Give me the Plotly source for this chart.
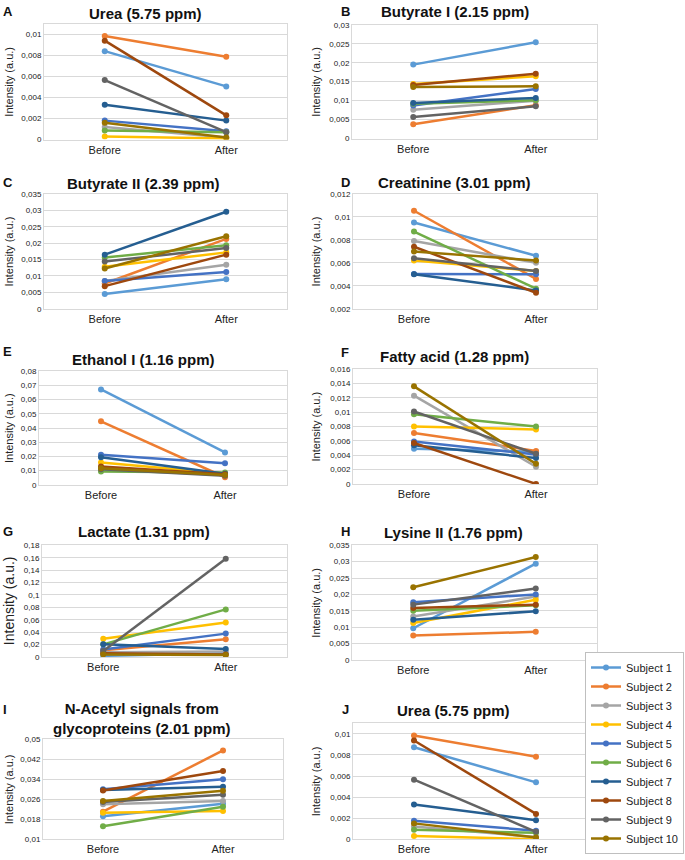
import plotly.graph_objects as go

W, H = 685, 860

times = ["Before", "After"]
subjects = ["Subject %d" % i for i in range(1, 11)]
colors = ["#5B9BD5", "#ED7D31", "#A5A5A5", "#FFC000", "#4472C4",
          "#70AD47", "#255E91", "#9E480E", "#636363", "#997300"]

# values per subject (Subject 1..10), before / after
urea_before = [0.0084, 0.00984, 0.0012, 0.0003, 0.0018, 0.00086, 0.0033, 0.0094, 0.00565, 0.0016]
urea_after = [0.00505, 0.00786, 0.0002, 0.0001, 0.0008, 0.0007, 0.0018, 0.0023, 0.0007, 0.0002]
butyrate1_before = [0.0195, 0.0038, 0.0076, 0.0144, 0.0087, 0.0092, 0.0094, 0.0141, 0.0057, 0.0136]
butyrate1_after = [0.0254, 0.0088, 0.0100, 0.0164, 0.0131, 0.0101, 0.0107, 0.0171, 0.0085, 0.0138]
butyrate2_before = [0.0045, 0.0077, 0.0085, 0.0128, 0.0085, 0.0156, 0.0165, 0.0069, 0.0144, 0.0123]
butyrate2_after = [0.0090, 0.0213, 0.0134, 0.0172, 0.0112, 0.0194, 0.0296, 0.0165, 0.0185, 0.0221]
creatinine_before = [0.00951, 0.01054, 0.0079, 0.0062, 0.00504, 0.00873, 0.0050, 0.0074, 0.0064, 0.0070]
creatinine_after = [0.00662, 0.0046, 0.0060, 0.0053, 0.0050, 0.00375, 0.0036, 0.0034, 0.0053, 0.0062]
ethanol_before = [0.0671, 0.0447, 0.0110, 0.0158, 0.0212, 0.0094, 0.0195, 0.0130, 0.0110, 0.0118]
ethanol_after = [0.0228, 0.0054, 0.0070, 0.0080, 0.0153, 0.0087, 0.0078, 0.0075, 0.0064, 0.0070]
fatty_before = [0.0049, 0.0071, 0.0123, 0.0080, 0.0059, 0.0097, 0.0054, 0.0057, 0.0101, 0.0136]
fatty_after = [0.0045, 0.0046, 0.0024, 0.0076, 0.0041, 0.0080, 0.0036, 0.0, 0.0042, 0.0028]
lactate_before = [0.0020, 0.0110, 0.0080, 0.0297, 0.0124, 0.0205, 0.0205, 0.0060, 0.0097, 0.0043]
lactate_after = [0.0060, 0.0286, 0.0090, 0.0557, 0.0378, 0.0768, 0.0130, 0.0043, 0.1584, 0.0032]
lysine_before = [0.0097, 0.0075, 0.0133, 0.0113, 0.0176, 0.0150, 0.0123, 0.0159, 0.0169, 0.0222]
lysine_after = [0.0294, 0.0086, 0.0194, 0.0184, 0.0200, 0.0167, 0.0149, 0.0169, 0.0218, 0.0314]
nacetyl_before = [0.0192, 0.0210, 0.0240, 0.0206, 0.0300, 0.0152, 0.0297, 0.0295, 0.0249, 0.0253]
nacetyl_after = [0.0242, 0.0455, 0.0253, 0.0213, 0.0340, 0.0230, 0.0310, 0.0373, 0.0278, 0.0294]
urea2_before = [0.00873, 0.00984, 0.0012, 0.0003, 0.00175, 0.0009, 0.0033, 0.00937, 0.00565, 0.0015]
urea2_after = [0.0054, 0.00784, 0.0002, 0.0, 0.0008, 0.0006, 0.0018, 0.0024, 0.0007, 0.00015]

panels = [
    # letter, title, before, after, yrange, dtick, x-domain px, y-domain px, title pos, letter pos
    ("A", "Urea (5.75 ppm)", urea_before, urea_after, [0, 0.011], 0.002, (44, 287), (20, 137), (145, 10), (8, 8)),
    ("B", "Butyrate I (2.15 ppm)", butyrate1_before, butyrate1_after, [0, 0.03], 0.005, (352, 597), (21, 136), (455, 8), (345, 8)),
    ("C", "Butyrate II (2.39 ppm)", butyrate2_before, butyrate2_after, [0, 0.035], 0.005, (44, 287), (192, 308), (143, 181), (8, 180)),
    ("D", "Creatinine (3.01 ppm)", creatinine_before, creatinine_after, [0.002, 0.012], 0.002, (353, 597), (192, 308), (454, 180), (345, 180)),
    ("E", "Ethanol I (1.16 ppm)", ethanol_before, ethanol_after, [0, 0.08], 0.01, (39, 287), (371, 486), (143, 359), (8, 351)),
    ("F", "Fatty acid (1.28 ppm)", fatty_before, fatty_after, [0, 0.016], 0.002, (353, 597), (369, 485), (454, 356), (345, 352)),
    ("G", "Lactate (1.31 ppm)", lactate_before, lactate_after, [0, 0.18], 0.02, (42, 287), (547, 660), (144, 533), (8, 533)),
    ("H", "Lysine II (1.76 ppm)", lysine_before, lysine_after, [0, 0.035], 0.005, (352, 597), (547, 663), (453, 534), (345, 533)),
    ("I", "N-Acetyl signals from<br>glycoproteins (2.01 ppm)", nacetyl_before, nacetyl_after, [0.01, 0.05], 0.008, (43, 283), (743, 844), (142, 722), (5, 713)),
    ("J", "Urea (5.75 ppm)", urea2_before, urea2_after, [0, 0.011], 0.002, (353, 597), (727, 844), (453, 714), (345, 713)),
]

fig = go.Figure()
annotations = []
layout = {}

for k, (letter, title, before, after, yr, dt, xd, yd, tpos, lpos) in enumerate(panels):
    n = "" if k == 0 else str(k + 1)
    for i, name in enumerate(subjects):
        fig.add_trace(go.Scatter(
            x=times, y=[before[i], after[i]], name=name,
            mode="lines+markers", showlegend=(k == 0),
            line=dict(color=colors[i], width=2.5),
            marker=dict(color=colors[i], size=6),
            xaxis="x" + n, yaxis="y" + n,
        ))
    layout["xaxis" + n] = dict(
        domain=[xd[0] / W, xd[1] / W], anchor="y" + n,
        type="category", range=[-0.5, 1.5], showgrid=False,
        showline=True, mirror=True, linecolor="#d9d9d9", linewidth=1,
        ticks="", tickfont=dict(size=11, color="#222"),
    )
    layout["yaxis" + n] = dict(
        domain=[1 - yd[1] / H, 1 - yd[0] / H], anchor="x" + n,
        range=yr, tick0=yr[0], dtick=dt, showgrid=True, gridcolor="#d9d9d9",
        zeroline=False, showline=True, mirror=True, linecolor="#d9d9d9",
        linewidth=1, ticks="", tickfont=dict(size=8, color="#222"),
    )
    annotations.append(dict(
        text="<b>%s</b>" % title, x=tpos[0] / W, y=1 - tpos[1] / H,
        xref="paper", yref="paper", showarrow=False,
        xanchor="center", yanchor="middle", font=dict(size=15, color="#111"),
    ))
    annotations.append(dict(
        text="<b>%s</b>" % letter, x=lpos[0] / W, y=1 - lpos[1] / H,
        xref="paper", yref="paper", showarrow=False,
        xanchor="center", yanchor="middle", font=dict(size=13, color="#111"),
    ))
    ax_x = 9 if xd[0] < 100 else 316
    annotations.append(dict(
        text="Intensity (a.u.)", x=ax_x / W, y=1 - (yd[0] + yd[1]) / 2 / H,
        xref="paper", yref="paper", showarrow=False, textangle=-90,
        xanchor="center", yanchor="middle",
        font=dict(size=14 if letter == "G" else 11, color="#222"),
    ))

fig.update_layout(
    width=W, height=H, margin=dict(l=0, r=0, t=0, b=0),
    paper_bgcolor="white", plot_bgcolor="white",
    font=dict(family="Liberation Sans, Arial, sans-serif"),
    separators=",.",
    annotations=annotations,
    legend=dict(
        x=684 / W, y=1 / H, xanchor="right", yanchor="bottom",
        bordercolor="#bfbfbf", borderwidth=1, bgcolor="white",
        font=dict(size=11, color="#222"), itemwidth=30,
        tracegroupgap=0,
    ),
    **layout,
)

fig.write_html(
    "out.html",
    config={"displayModeBar": False},
    post_script="document.body.style.margin='0';document.body.style.overflow='hidden';",
)
